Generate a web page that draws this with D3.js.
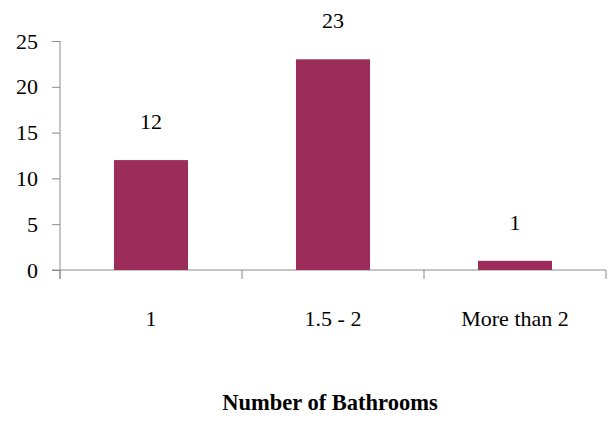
<!DOCTYPE html>
<html>
<head>
<meta charset="utf-8">
<script src="https://cdn.jsdelivr.net/npm/d3@7"></script>
<style>
  html, body { margin: 0; padding: 0; background: #fff; }
  svg { display: block; }
</style>
</head>
<body>
<script>
// Household survey: count of homes by number of bathrooms
const categories = ["1", "1.5 - 2", "More than 2"];
const counts = [12, 23, 1];
const yTicks = [0, 5, 10, 15, 20, 25];
const xTitle = "Number of Bathrooms";

const width = 615, height = 424;
const plot = { left: 60, right: 606, top: 41, bottom: 270 };
const serif = "'Liberation Serif'";

const svg = d3.select("body").append("svg")
  .attr("width", width).attr("height", height);

const x = d3.scaleBand()
  .domain(categories)
  .range([plot.left, plot.right])
  .paddingInner(0.593)
  .paddingOuter(0.2965);

const y = d3.scaleLinear()
  .domain([0, 25])
  .range([plot.bottom, plot.top]);

const axisColor = "#8c8c8c";

// Y axis
const yAxis = svg.append("g")
  .attr("transform", `translate(${plot.left},0)`)
  .call(d3.axisLeft(y).tickValues(yTicks).tickSize(8).tickPadding(14));
yAxis.attr("font-family", null).attr("font-size", null);
yAxis.select(".domain").remove();
yAxis.append("line")
  .attr("x1", 0).attr("x2", 0)
  .attr("y1", plot.top).attr("y2", plot.bottom + 9)
  .attr("stroke", axisColor);
yAxis.selectAll(".tick line").attr("stroke", axisColor);
yAxis.selectAll(".tick text")
  .style("font-family", serif)
  .style("font-size", "22px")
  .style("fill", "#000");

// X axis with ticks on band boundaries
const xg = svg.append("g");
xg.append("line")
  .attr("x1", plot.left - 8).attr("x2", plot.right)
  .attr("y1", plot.bottom).attr("y2", plot.bottom)
  .attr("stroke", axisColor);
const step = x.step();
const boundaries = d3.range(categories.length + 1).map(i => plot.left + i * step);
xg.selectAll("line.bt").data(boundaries).join("line")
  .attr("class", "bt")
  .attr("x1", d => d).attr("x2", d => d)
  .attr("y1", plot.bottom).attr("y2", plot.bottom + 9)
  .attr("stroke", axisColor);
xg.selectAll("text.cat").data(categories).join("text")
  .attr("class", "cat")
  .attr("x", d => x(d) + x.bandwidth() / 2)
  .attr("y", 326)
  .attr("text-anchor", "middle")
  .style("font-family", serif)
  .style("font-size", "22px")
  .text(d => d);

// Bars
const data = categories.map((c, i) => ({ c, v: counts[i] }));
svg.selectAll("rect.bar").data(data).join("rect")
  .attr("class", "bar")
  .attr("x", d => x(d.c))
  .attr("y", d => y(d.v))
  .attr("width", x.bandwidth())
  .attr("height", d => y(0) - y(d.v))
  .attr("fill", "#9c2d5b");

// Value labels
svg.selectAll("text.val").data(data).join("text")
  .attr("class", "val")
  .attr("x", d => x(d.c) + x.bandwidth() / 2)
  .attr("y", d => y(d.v) - 31)
  .attr("text-anchor", "middle")
  .style("font-family", serif)
  .style("font-size", "22px")
  .text(d => d.v);

// Axis title
svg.append("text")
  .attr("x", 330)
  .attr("y", 410)
  .attr("text-anchor", "middle")
  .style("font-family", serif)
  .style("font-size", "22.5px")
  .style("font-weight", "bold")
  .text(xTitle);
</script>
</body>
</html>
